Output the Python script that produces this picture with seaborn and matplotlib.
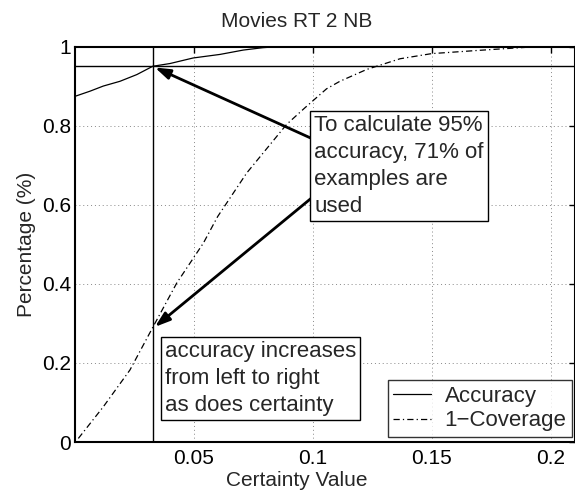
import matplotlib
matplotlib.use("Agg")
import matplotlib.pyplot as plt
import seaborn as sns
import pandas as pd

# ---- data ----
acc_x = [0.0, 0.0063, 0.0119, 0.0189, 0.026, 0.0327, 0.040, 0.0497, 0.061, 0.0708, 0.079, 0.086, 0.10, 0.15, 0.21]
acc_y = [0.874, 0.887, 0.900, 0.912, 0.929, 0.950, 0.957, 0.971, 0.980, 0.991, 0.997, 1.0, 1.0, 1.0, 1.0]
cov_x = [0.0014, 0.0119, 0.0231, 0.0329, 0.0428, 0.054, 0.060, 0.0722, 0.089, 0.0967, 0.1058,
         0.1114, 0.1227, 0.1367, 0.150, 0.1717, 0.190, 0.21]
cov_y = [0.009, 0.089, 0.182, 0.292, 0.402, 0.503, 0.570, 0.680, 0.803, 0.845, 0.893,
         0.912, 0.942, 0.969, 0.982, 0.991, 0.998, 1.0]
x_ticks = [0.05, 0.1, 0.15, 0.2]
x_tick_labels = ["0.05", "0.1", "0.15", "0.2"]
y_ticks = [0, 0.2, 0.4, 0.6, 0.8, 1]
y_tick_labels = ["0", "0.2", "0.4", "0.6", "0.8", "1"]
threshold_x = 0.0329
threshold_y = 0.95
point_cov_y = 0.291
title = "Movies RT 2 NB"
xlabel = "Certainty Value"
ylabel = "Percentage (%)"
note1 = "To calculate 95%\naccuracy, 71% of\nexamples are\nused"
note2 = "accuracy increases\nfrom left to right\nas does certainty"

sns.set_style("white")
plt.rcParams['font.family'] = ['Liberation Sans', 'DejaVu Sans']

fig = plt.figure(figsize=(5.75, 4.91), dpi=100)
ax = fig.add_axes([75/575, 49/491, 500/575, 395.5/491])

df_acc = pd.DataFrame({"x": acc_x, "y": acc_y})
df_cov = pd.DataFrame({"x": cov_x, "y": cov_y})
sns.lineplot(data=df_acc, x="x", y="y", ax=ax, color="black", lw=0.9, label="Accuracy",
             estimator=None, sort=False)
sns.lineplot(data=df_cov, x="x", y="y", ax=ax, color="black", lw=0.9, label="1\u2212Coverage",
             estimator=None, sort=False)
ax.lines[1].set_dashes([5, 2.5, 1, 2.5])

ax.axhline(threshold_y, color="black", lw=1.0, zorder=1)
ax.axvline(threshold_x, color="black", lw=1.0, zorder=1)

ax.set_xlim(0, 0.2103)
ax.set_ylim(0, 1)
ax.set_xticks(x_ticks)
ax.set_xticklabels(x_tick_labels)
ax.set_yticks(y_ticks)
ax.set_yticklabels(y_tick_labels)
ax.tick_params(direction="in", length=4, width=1, labelsize=15, top=True, right=True,
               colors="black")
ax.tick_params(axis="x", pad=5)
ax.tick_params(axis="y", pad=3)
ax.grid(True, ls=(0, (1, 3)), color="#888888", lw=0.7)
for s in ax.spines.values():
    s.set_color("black")
    s.set_linewidth(1.5)
    s.set_visible(True)

ax.set_title(title, fontsize=15, x=0.443, pad=14)
ax.set_xlabel(xlabel, fontsize=15)
ax.xaxis.set_label_coords(0.443, -0.073)
ax.set_ylabel(ylabel, fontsize=15)
ax.yaxis.set_label_coords(-0.078, 0.5)

# annotations
ax.annotate("", xy=(0.0336, 0.947), xytext=(0.0997, 0.767),
            arrowprops=dict(arrowstyle="-|>,head_length=0.9,head_width=0.3", color="black", lw=2,
                            shrinkA=0, shrinkB=0))
ax.annotate("", xy=(0.0336, point_cov_y), xytext=(0.0997, 0.618),
            arrowprops=dict(arrowstyle="-|>,head_length=0.9,head_width=0.3", color="black", lw=2,
                            shrinkA=0, shrinkB=0))
ax.text(0.1006, 0.826, note1, fontsize=16, ha="left", va="top", linespacing=1.36,
        bbox=dict(boxstyle="square,pad=0.18", fc="white", ec="black", lw=1), zorder=5)
ax.text(0.0378, 0.255, note2, fontsize=16, ha="left", va="top", linespacing=1.36,
        bbox=dict(boxstyle="square,pad=0.18", fc="white", ec="black", lw=1), zorder=5)

leg = ax.legend(loc="lower right", bbox_to_anchor=(0.994, 0.013), fontsize=16, frameon=True,
                fancybox=False, handlelength=1.7, handletextpad=0.6, borderpad=0.25,
                labelspacing=0.15, borderaxespad=0)
leg.get_frame().set_edgecolor("black")
leg.get_frame().set_linewidth(1)

fig.savefig("out.png", dpi=100)
